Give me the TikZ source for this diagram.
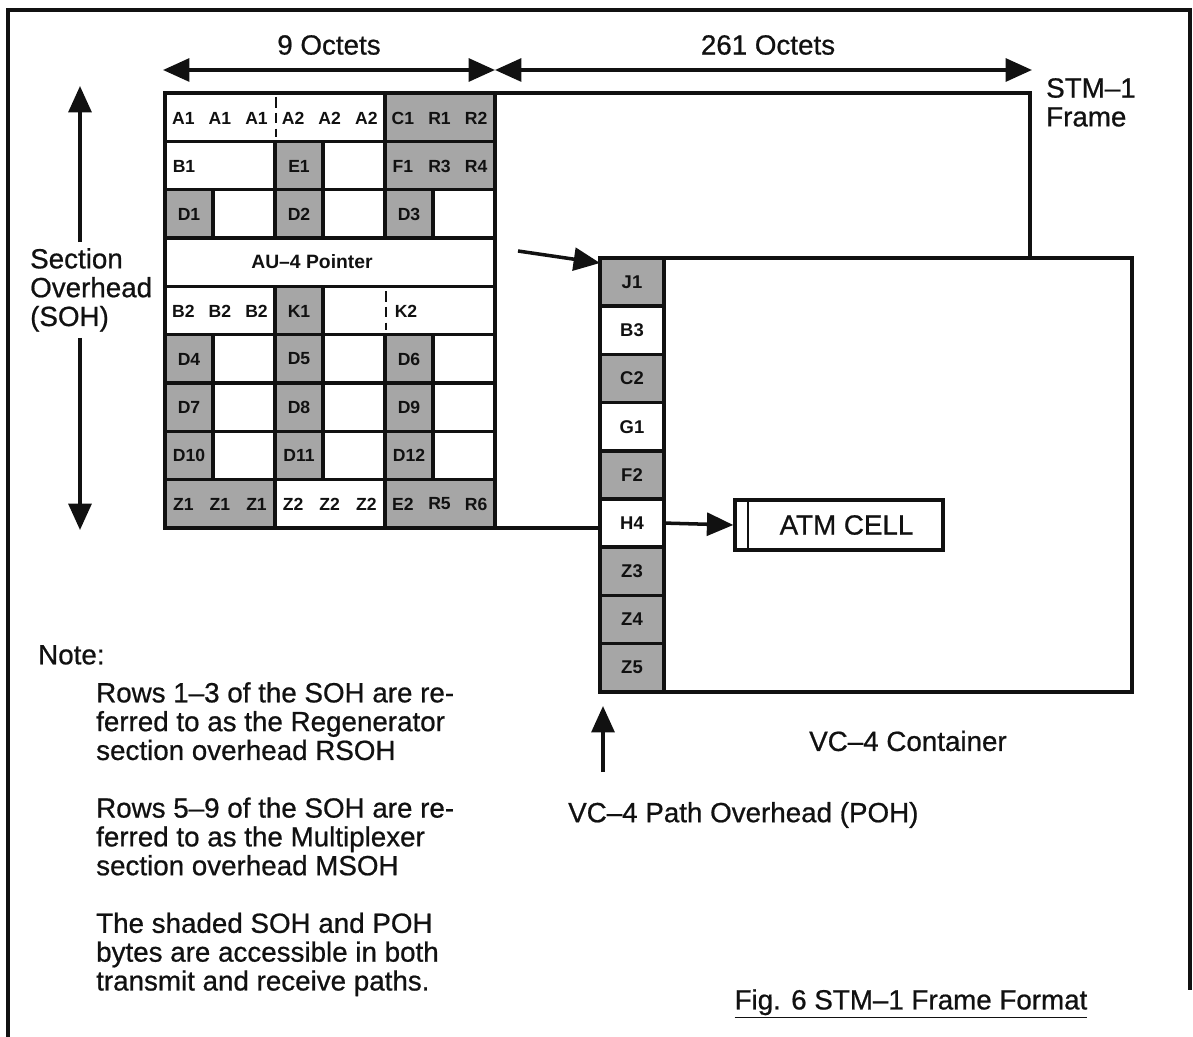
\documentclass[tikz,border=0pt]{standalone}
\usepackage{fontspec}
\setmainfont{Liberation Sans}
\newfontfamily\heavy{Liberation Sans}[FakeBold=0.7]
\usetikzlibrary{arrows.meta,positioning}
\definecolor{Ink}{HTML}{111111}
\definecolor{Shade}{HTML}{A6A6A6}
\tikzset{
  cell/.style={draw=Ink,line width=2pt,fill=white},
  dark/.style={cell,fill=Shade},
  byte/.style={font=\fontsize{10}{12}\selectfont\bfseries,text=Ink,inner sep=1pt},
  big/.style={font=\fontsize{15.8}{16.4}\selectfont\heavy,text=Ink},
  pohbox/.style={cell,minimum width=1.28cm,minimum height=0.964cm,outer sep=0pt,inner sep=0pt,
    font=\fontsize{10.5}{12}\selectfont\bfseries,text=Ink},
  tip/.style={draw=Ink,line width=2pt,-{Triangle[length=15pt,width=13pt]}},
  twotip/.style={tip,{Triangle[length=15pt,width=13pt]}-{Triangle[length=15pt,width=13pt]}},
  split/.style={draw=Ink,line width=1.4pt,dash pattern=on 6pt off 3pt}
}
\begin{document}
\begin{tikzpicture}[x=0.02cm,y=-0.02cm]
  \useasboundingbox (0,0) rectangle (1193,1037);
  % page frame
  \draw[Ink,line width=2pt] (8,1037) -- (8,10) -- (1190,10) -- (1190,990);
  % octet counts
  \coordinate (octL) at (163,70);
  \coordinate (octM) at (495,70);
  \coordinate (octR) at (1032,70);
  \draw[twotip] (octL) -- (octM);
  \draw[twotip] (octM) -- (octR);
  \node[big] (nine) at (329,45) {9 Octets};
  \node[big] (twosixone) at (768,45) {261 Octets};
  \node[big,align=left,anchor=north west] (stm) at (1040,72) {STM–1\\Frame};
  % STM-1 frame and section overhead
  \draw[cell] (165,93) rectangle (1030,528);
  \draw[cell] (165,93) rectangle (385,141.3);
  \draw[dark] (385,93) rectangle (495,141.3);
  \draw[split] (276,97) -- (276,137);
  \draw[cell] (165,141.3) rectangle (275,189.7);
  \draw[dark] (275,141.3) rectangle (323,189.7);
  \draw[cell] (323,141.3) rectangle (385,189.7);
  \draw[dark] (385,141.3) rectangle (495,189.7);
  \foreach \t in {189.7,334.7,383,431.3}
    \foreach \g in {165,275,385} {
      \draw[dark] (\g,\t) rectangle (\g+48,\t+48.3);
      \draw[cell] (\g+48,\t) rectangle (\g+110,\t+48.3);
    }
  \draw[cell] (165,238) rectangle (495,286.3);
  \draw[cell] (165,286.3) rectangle (275,334.7);
  \draw[dark] (275,286.3) rectangle (323,334.7);
  \draw[cell] (323,286.3) rectangle (495,334.7);
  \draw[split] (386,291) -- (386,330);
  \draw[dark] (165,479.7) rectangle (275,528);
  \draw[cell] (275,479.7) rectangle (385,528);
  \draw[dark] (385,479.7) rectangle (495,528);
  % byte labels
  \foreach \b [count=\i] in {A1,A1,A1,A2,A2,A2,C1,R1,R2}
    \node[byte] (ra\i) at ({165+36.6*(\i-0.5)},118) {\b};
  \node[byte] (b1) at (184,166) {B1};
  \node[byte] (e1) at (299,166) {E1};
  \foreach \b [count=\i] in {F1,R3,R4}
    \node[byte] (rb\i) at ({165+36.6*(\i+5.5)},166) {\b};
  \node[byte,font=\fontsize{11}{13}\selectfont\bfseries] (au) at (312,262) {AU–4 Pointer};
  \foreach \b [count=\i] in {B2,B2,B2}
    \node[byte] (rc\i) at ({165+36.6*(\i-0.5)},311) {\b};
  \node[byte] (k1) at (299,311) {K1};
  \node[byte] (k2) at (406,311) {K2};
  \foreach \y/\a/\b/\c in {214/D1/D2/D3,359/D4/D5/D6,407/D7/D8/D9,455.5/D10/D11/D12} {
    \node[byte] (\a) at (189,\y) {\a};
    \node[byte] (\b) at (299,\y) {\b};
    \node[byte] (\c) at (409,\y) {\c};
  }
  \foreach \b [count=\i] in {Z1,Z1,Z1,Z2,Z2,Z2,E2,R5,R6}
    \node[byte] (rd\i) at ({165+36.6*(\i-0.5)},504) {\b};
  % section overhead arrow
  \node[big,align=left,anchor=west] (soh) at (24,290) {Section\\Overhead\\(SOH)};
  \coordinate (sohT) at (80,86);
  \coordinate (sohB) at (80,530);
  \draw[tip] (soh.north -| sohT) -- (sohT);
  \draw[tip] (soh.south -| sohB) -- (sohB);
  % VC-4 container with path overhead
  \draw[cell] (600,258) rectangle (1132,692);
  \node[pohbox,dark] (j1) at (632,282.1) {J1};
  \node[pohbox] (b3) [below=0pt of j1] {B3};
  \node[pohbox,dark] (c2) [below=0pt of b3] {C2};
  \node[pohbox] (g1) [below=0pt of c2] {G1};
  \node[pohbox,dark] (f2) [below=0pt of g1] {F2};
  \node[pohbox] (h4) [below=0pt of f2] {H4};
  \node[pohbox,dark] (z3) [below=0pt of h4] {Z3};
  \node[pohbox,dark] (z4) [below=0pt of z3] {Z4};
  \node[pohbox,dark] (z5) [below=0pt of z4] {Z5};
  \coordinate (ptr) at (518,251);
  \draw[tip] (ptr) -- ([yshift=-0.1cm]j1.north west);
  \node[cell,big,minimum width=4.16cm,minimum height=1cm,inner sep=0pt] (atm) at (839,525)
    {\hspace*{0.3cm}ATM CELL};
  \draw[Ink,line width=1.3pt] ([xshift=0.3cm]atm.north west) -- ([xshift=0.3cm]atm.south west);
  \draw[tip] (h4.east) -- (atm.west);
  \node[big] (vc) at (908,741) {VC–4 Container};
  \coordinate (pohT) at (603,706);
  \coordinate (pohB) at (603,772);
  \draw[tip] (pohB) -- (pohT);
  \node[big,anchor=west] (pohlbl) at (562,815) {VC–4 Path Overhead (POH)};
  % notes
  \node[big,anchor=north west] (note) at (32,639) {Note:};
  \node[big,align=left,anchor=north west] (notes) at (90,676)
    {Rows 1–3 of the SOH are re-\\ferred to as the Regenerator\\section overhead RSOH\\[16.4pt]
     Rows 5–9 of the SOH are re-\\ferred to as the Multiplexer\\section overhead MSOH\\[16.4pt]
     The shaded SOH and POH\\bytes are accessible in both\\transmit and receive paths.};
  \node[big] (fig) at (911,1004) {\underline{Fig. 6 STM–1 Frame Format}};
\end{tikzpicture}
\end{document}
